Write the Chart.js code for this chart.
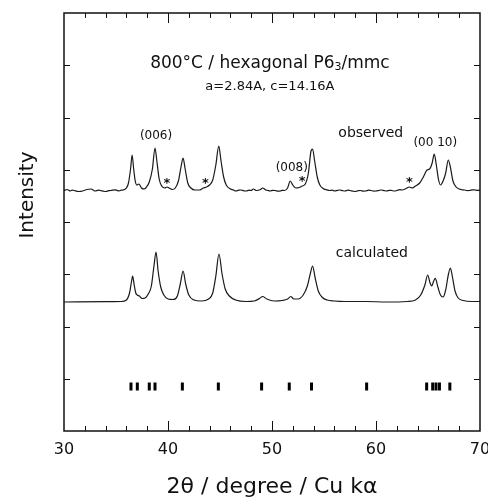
<!DOCTYPE html>
<html>
<head>
<meta charset="utf-8">
<script src="https://cdn.jsdelivr.net/npm/chart.js@4.4.1/dist/chart.umd.min.js"></script>
<style>
  html, body { margin: 0; padding: 0; background: #fff; }
  #wrap { width: 488px; height: 498px; }
</style>
</head>
<body>
<div id="wrap"><canvas id="xrd" width="488" height="498"></canvas></div>
<script>
// observed pattern (offset upward)
const obsAngle = [30.0, 30.3, 30.6, 30.8, 31.0, 31.2, 31.4, 31.8, 32.0, 32.2, 32.6, 32.8, 33.0, 33.3, 33.5, 33.8,
  34.0, 34.3, 34.5, 34.9, 35.1, 35.3, 35.5, 35.7,
  36.0, 36.2, 36.4, 36.55, 36.7, 36.85, 37.0, 37.2, 37.45, 37.7, 37.9, 38.2, 38.5, 38.75, 38.95, 39.15,
  39.4, 39.7, 39.9, 40.1, 40.4, 40.7, 41.0, 41.25, 41.45, 41.65, 41.9, 42.2, 42.6, 43.0, 43.4, 43.7,
  44.0, 44.3, 44.6, 44.88, 45.1, 45.35, 45.6, 46.0, 46.3, 46.5, 46.8, 47.0, 47.3, 47.5, 47.8, 48.0, 48.2, 48.5, 48.9, 49.1,
  49.4, 49.6, 49.8, 50.1, 50.3, 50.6, 50.8, 51.0, 51.2, 51.5, 51.75, 52.0, 52.3, 52.6, 52.9, 53.2, 53.5, 53.75, 53.9, 54.1,
  54.35, 54.6, 55.0, 55.3, 55.5, 55.8, 56.0, 56.3, 56.5, 56.8, 57.0, 57.3, 57.5, 57.8, 58.0, 58.3, 58.5, 58.8,
  59.0, 59.3, 59.5, 59.8, 60.0, 60.3, 60.5, 60.8, 61.0, 61.3, 61.5, 61.8,
  62.0, 62.3, 62.5, 62.9, 63.2, 63.5, 63.8, 64.2, 64.6, 64.9, 65.15, 65.4, 65.6, 65.8, 66.0, 66.2, 66.45,
  66.7, 66.95, 67.15, 67.4, 67.7, 68.0, 68.3, 68.5, 68.8, 69.0, 69.3, 69.5, 69.8, 70.0];
const obsInt = [240.5, 241.5, 240, 240.8, 240.5, 239.8, 239.5, 240, 240.8, 241.5, 242, 241, 240, 240.8, 240.5, 239.8,
  239.5, 240.3, 240.5, 241.2, 240.6, 240, 240.8, 241,
  243, 248, 262, 276, 262, 250, 246, 247, 243, 242, 243.5, 249, 262, 283, 268, 252,
  245, 243, 244, 243, 241.5, 243, 250, 264, 273, 262, 248, 243, 241, 241, 243, 244,
  246, 251, 266, 285, 270, 254, 246, 242, 241, 240, 240.8, 241, 240.2, 240, 240.8, 240.5, 242, 240.5, 241.5, 243,
  241, 240.6, 240, 240.7, 240.5, 239.8, 240, 240.7, 240.5, 243, 250, 246, 243, 243.5, 245, 247, 258, 280, 282, 270,
  254, 246, 242, 241.2, 240.5, 240.9, 240, 240.6, 241, 240.3, 240, 240.8, 240.5, 239.8, 239.5, 240.4, 240.5, 239.9,
  240, 240.8, 240.5, 239.9, 240, 240.7, 241, 240.4, 240, 240.7, 240.5, 240,
  240.5, 241.3, 241, 242.5, 244, 243, 245, 248, 255, 261, 262, 268, 277, 266, 252, 246, 250,
  258, 271, 264, 250, 244, 242, 241.2, 241, 240.4, 240.5, 241.2, 241, 240.6, 241];

// calculated pattern
const calcAngle = [30.0, 34.0, 35.5, 36.0, 36.3, 36.5, 36.6, 36.75, 36.9, 37.05, 37.25, 37.5, 37.8, 38.1,
  38.4, 38.65, 38.85, 39.05, 39.3, 39.6, 40.0, 40.5, 40.9, 41.2, 41.45, 41.7, 42.0, 42.5, 43.2, 43.9,
  44.3, 44.6, 44.9, 45.2, 45.5, 45.9, 46.5, 47.5, 48.3, 48.8, 49.1, 49.5, 50.2, 51.0, 51.5, 51.8,
  52.1, 52.5, 53.0, 53.4, 53.7, 53.9, 54.15, 54.45, 54.8, 55.3, 56.0, 57.0, 59.0, 61.0, 63.0, 63.8,
  64.3, 64.7, 64.97, 65.2, 65.35, 65.55, 65.7, 65.95, 66.2, 66.45, 66.7, 66.95, 67.15, 67.35, 67.6,
  67.9, 68.4, 69.2, 70.0];
const calcInt = [129, 129.3, 129.5, 131, 138, 150, 155, 146, 138, 136, 135, 132.5, 133, 137,
  145, 165, 179, 160, 144, 136, 132, 131.5, 135, 148, 160, 147, 136, 131, 130, 132,
  138, 155, 177, 157, 142, 135, 131, 129.5, 130, 132.5, 134.5, 132, 130, 130.5, 132, 134.5,
  132, 132, 136, 145, 158, 165, 153, 140, 134, 131, 130, 129.5, 129.5, 129, 129.5, 131,
  136, 146, 156, 148, 145, 150, 152.7, 144, 136, 134, 141, 156, 163, 154, 140,
  133, 130.5, 129.5, 129.5];

// Bragg reflection positions (2theta)
const reflections = [36.44, 37.05, 38.2, 38.75, 41.38, 44.84, 49.0, 51.66, 53.8, 59.1, 64.87, 65.45, 65.77, 66.1, 67.1];
const reflectionLevel = 44.5;

const xMin = 30, xMax = 70, xStep = 2;
const yMin = 0, yMax = 418, yStep = 52;

// text placed in data coordinates
const notes = [
  { text: 'a=2.84A, c=14.16A', x: 49.8, y: 344, size: 13 },
  { text: '(006)', x: 38.85, y: 295, size: 12 },
  { text: 'observed', x: 59.5, y: 298, size: 14 },
  { text: '(00 10)', x: 65.7, y: 288, size: 12 },
  { text: '(008)', x: 51.9, y: 263, size: 12 },
  { text: 'calculated', x: 59.6, y: 178, size: 14 }
];
const stars = [[39.9, 249], [43.6, 249], [52.9, 251], [63.2, 250]];

const FONT = "'DejaVu Sans', sans-serif";

const framePlugin = {
  id: 'frame',
  afterDraw(chart) {
    const { ctx, chartArea: a, scales: { x, y } } = chart;
    ctx.save();
    ctx.strokeStyle = '#111';
    ctx.lineWidth = 1.5;
    ctx.strokeRect(a.left, a.top, a.right - a.left, a.bottom - a.top);

    // inward ticks
    ctx.lineWidth = 1;
    ctx.beginPath();
    x.ticks.forEach(t => {
      if (t.value <= xMin || t.value >= xMax) return;
      const px = Math.round(x.getPixelForValue(t.value)) + 0.5;
      const len = t.value % 10 === 0 ? 10 : 5;
      ctx.moveTo(px, a.bottom); ctx.lineTo(px, a.bottom - len);
      ctx.moveTo(px, a.top); ctx.lineTo(px, a.top + len);
    });
    y.ticks.forEach(t => {
      if (t.value <= yMin || t.value >= yMax) return;
      const py = Math.round(y.getPixelForValue(t.value)) + 0.5;
      ctx.moveTo(a.left, py); ctx.lineTo(a.left + 6, py);
      ctx.moveTo(a.right, py); ctx.lineTo(a.right - 6, py);
    });
    ctx.stroke();

    ctx.fillStyle = '#111';
    ctx.textBaseline = 'middle';
    ctx.textAlign = 'center';

    // heading with subscript 3
    const hx = x.getPixelForValue(49.8), hy = y.getPixelForValue(367);
    const p1 = '800°C / hexagonal P6', p2 = '3', p3 = '/mmc';
    ctx.font = '17px ' + FONT;
    const w1 = ctx.measureText(p1).width, w3 = ctx.measureText(p3).width;
    ctx.font = '11px ' + FONT;
    const w2 = ctx.measureText(p2).width;
    let sx = hx - (w1 + w2 + w3) / 2;
    ctx.textAlign = 'left';
    ctx.font = '17px ' + FONT;
    ctx.fillText(p1, sx, hy);
    ctx.font = '11px ' + FONT;
    ctx.fillText(p2, sx + w1, hy + 3);
    ctx.font = '17px ' + FONT;
    ctx.fillText(p3, sx + w1 + w2, hy);

    ctx.textAlign = 'center';
    notes.forEach(n => {
      ctx.font = n.size + 'px ' + FONT;
      ctx.fillText(n.text, x.getPixelForValue(n.x), y.getPixelForValue(n.y));
    });
    ctx.font = 'bold 13px ' + FONT;
    stars.forEach(s => ctx.fillText('*', x.getPixelForValue(s[0]), y.getPixelForValue(s[1]) + 2));

    // y axis title
    ctx.font = '20px ' + FONT;
    ctx.translate(28, 195);
    ctx.rotate(-Math.PI / 2);
    ctx.fillText('Intensity', 0, 0);
    ctx.restore();
  }
};

new Chart(document.getElementById('xrd'), {
  type: 'line',
  data: {
    datasets: [
      {
        label: 'observed',
        data: obsAngle.map((a, i) => ({ x: a, y: obsInt[i] })),
        borderColor: '#1a1a1a', borderWidth: 1.2, pointRadius: 0,
        cubicInterpolationMode: 'monotone'
      },
      {
        label: 'calculated',
        data: calcAngle.map((a, i) => ({ x: a, y: calcInt[i] })),
        borderColor: '#1a1a1a', borderWidth: 1.2, pointRadius: 0,
        cubicInterpolationMode: 'monotone'
      },
      {
        label: 'reflections',
        type: 'scatter',
        data: reflections.map(a => ({ x: a, y: reflectionLevel })),
        pointStyle: 'line', rotation: 90, radius: 4,
        borderColor: '#000', borderWidth: 3, showLine: false
      }
    ]
  },
  options: {
    responsive: false,
    animation: false,
    layout: { padding: { left: 64, right: 8, top: 13, bottom: 0 } },
    plugins: { legend: { display: false }, tooltip: { enabled: false } },
    scales: {
      x: {
        type: 'linear', min: xMin, max: xMax,
        grid: { display: false, drawTicks: false },
        border: { display: false },
        ticks: {
          stepSize: xStep, autoSkip: false, maxRotation: 0, padding: 11,
          color: '#111', font: { family: FONT, size: 16, lineHeight: 1 },
          callback: v => (v % 10 === 0 ? String(v) : '')
        },
        title: {
          display: true, text: '2θ / degree / Cu kα', color: '#111',
          font: { family: FONT, size: 22, lineHeight: 1 },
          padding: { top: 7, bottom: 0 }
        },
        afterFit: s => { s.paddingRight = 0; s.paddingLeft = 0; }
      },
      y: {
        type: 'linear', min: yMin, max: yMax,
        grid: { display: false, drawTicks: false },
        border: { display: false },
        ticks: { display: false, stepSize: yStep }
      }
    }
  },
  plugins: [framePlugin]
});
</script>
</body>
</html>
